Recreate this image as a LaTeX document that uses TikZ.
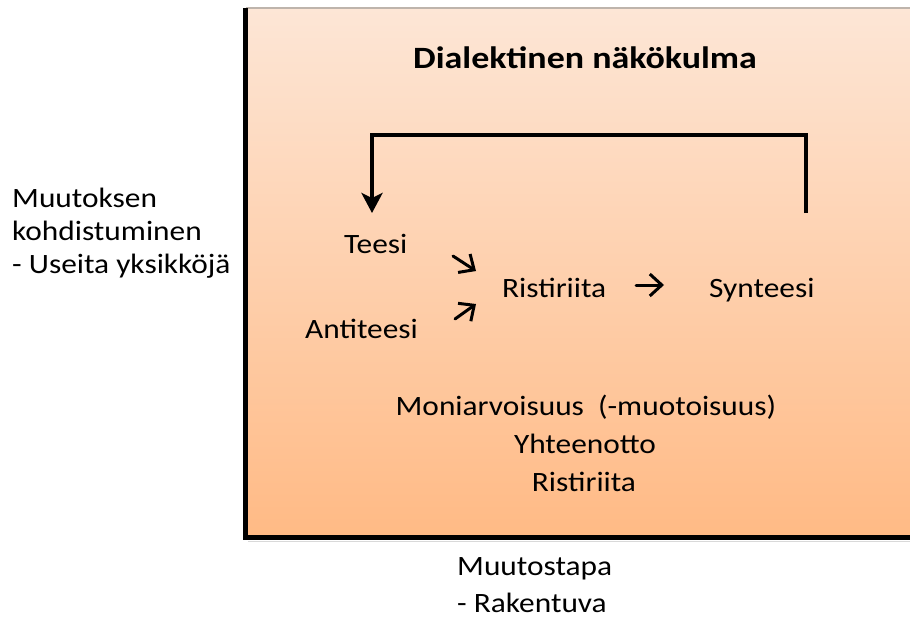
\documentclass[tikz,border=0pt]{standalone}
\usepackage{fontspec}
\setmainfont{Carlito}[FakeStretch=1.12]
\newfontfamily\headingfont{Carlito}[FakeStretch=1.16,BoldFont={* Bold}]
\usetikzlibrary{arrows.meta,calc}
\definecolor{boxtop}{RGB}{253,230,214}
\definecolor{boxbottom}{RGB}{255,186,133}
\definecolor{edgegray}{RGB}{190,180,172}
\begin{document}
\begin{tikzpicture}[x=1pt,y=-1pt,
  lbl/.style={inner sep=0pt,font=\fontsize{28}{33}\selectfont},
  heading/.style={inner sep=0pt,font=\headingfont\bfseries\fontsize{31}{36}\selectfont},
  feedback/.style={line width=4pt,line join=miter,-{Stealth[length=20pt,width=21pt,inset=5pt]}},
  smallarrow/.style={line width=3pt,line cap=round,-{Straight Barb[length=12pt,width=22pt,line width=3pt]}}]
\useasboundingbox (0,0) rectangle (910,619);
\fill[white] (0,0) rectangle (910,619);

% panel with gradient and shadowed left/bottom edges
\shade[top color=boxtop,bottom color=boxbottom] (246,8) rectangle (910,536);
\draw[edgegray,line width=1.2pt] (246,8) -- (910,8);
\draw[black,line width=4.5pt,line join=miter] (245.5,8) -- (245.5,537.5) -- (910,537.5);
\draw[black!15,line width=1.5pt] (248,541.5) -- (910,541.5);

% heading
\node[heading,anchor=base] (title) at (585,68) {Dialektinen näkökulma};

% dialectic terms
\node[lbl,anchor=base west] (teesi) at (344,253) {Teesi};
\node[lbl,anchor=base west] (antiteesi) at (305,338) {Antiteesi};
\node[lbl,anchor=base west] (ristiriita) at (502,297) {Ristiriita};
\node[lbl,anchor=base west] (synteesi) at (709,297) {Synteesi};

% small arrows between the terms
\coordinate (a1s) at (453,256);
\coordinate (a1e) at (476,271);
\coordinate (a2s) at (455,319);
\coordinate (a2e) at (476,304);
\coordinate (a3s) at (636,285);
\coordinate (a3e) at (664,285);
\draw[smallarrow] (a1s) -- (a1e);
\draw[smallarrow] (a2s) -- (a2e);
\draw[smallarrow] (a3s) -- (a3e);

% return loop from synthesis back to thesis
\coordinate (loopstart) at (806,213);
\coordinate (loopend) at (372,213);
\draw[feedback] (loopstart) -- (806,135) -| (loopend);

% properties
\node[lbl,anchor=base] (moni) at (586,415) {Moniarvoisuus\ \ (-muotoisuus)};
\node[lbl,anchor=base] (yhteen) at (585,453) {Yhteenotto};
\node[lbl,anchor=base] (risti2) at (584,491) {Ristiriita};

% axis labels
\node[lbl,anchor=base west] (kohde1) at (12,207) {Muutoksen};
\node[lbl,anchor=base west] (kohde2) at (12,240) {kohdistuminen};
\node[lbl,anchor=base west] (kohde3) at (12,273) {- Useita yksikköjä};
\node[lbl,anchor=base west] (tapa1) at (457,575) {Muutostapa};
\node[lbl,anchor=base west] (tapa2) at (457,612) {- Rakentuva};
\end{tikzpicture}
\end{document}
